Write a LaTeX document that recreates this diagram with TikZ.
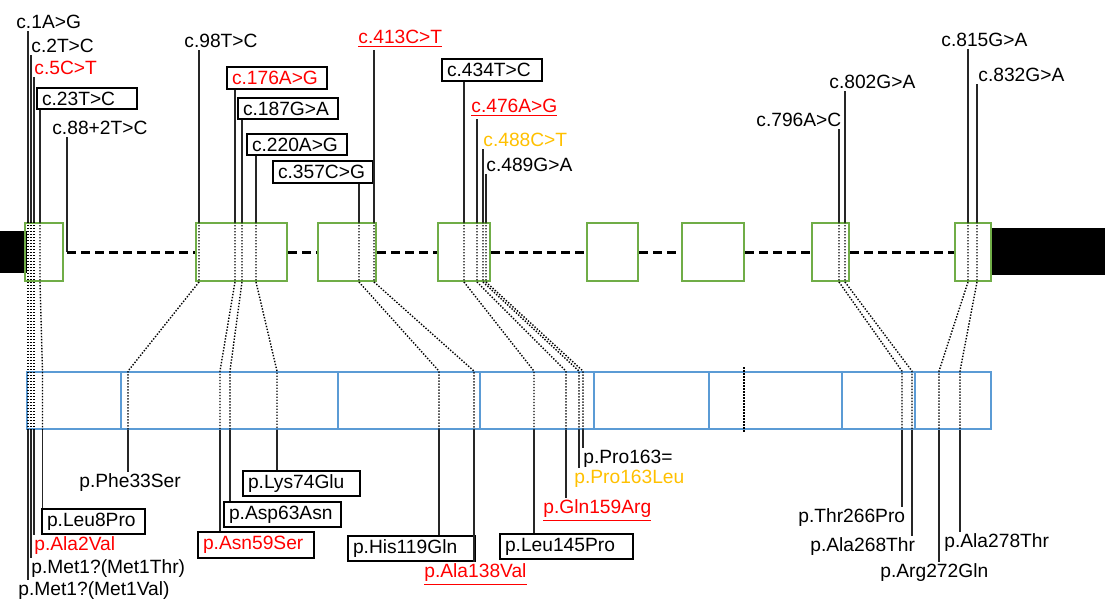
\documentclass[tikz,border=0pt]{standalone}
\usepackage{fontspec}
\setmainfont{Liberation Sans}
\usetikzlibrary{positioning}
\definecolor{exongreen}{RGB}{112,173,71}
\definecolor{barblue}{RGB}{91,155,213}
\definecolor{varred}{RGB}{255,0,0}
\definecolor{vargold}{RGB}{255,192,0}

\begin{document}
\begin{tikzpicture}[
  x=0.5pt, y=-0.5pt,
  font=\fontsize{9.6}{11}\selectfont,
  exon/.style={draw=exongreen, line width=1pt, minimum height=29pt, inner sep=0pt},
  utr/.style={fill=black, minimum height=21pt, inner sep=0pt},
  intron/.style={draw=black, line width=1.5pt, dash pattern=on 4.5pt off 2.5pt},
  prot/.style={draw=barblue, line width=0.9pt, minimum width=482pt, minimum height=28.5pt, inner sep=0pt},
  div/.style={draw=barblue, line width=0.6pt},
  lab/.style={anchor=west, inner sep=1pt},
  box/.style={lab, draw=black, line width=1pt, inner xsep=2.5pt, inner ysep=2pt,
              text width=45pt, align=left},
  link/.style={draw=black!85, line width=0.6pt},
  map/.style={draw=black, line width=0.7pt, dash pattern=on 0.7pt off 0.8pt}
]
\useasboundingbox (0,0) rectangle (1105,601);

% gene: UTRs, exons, introns
\node[utr, minimum width=13.5pt] (utr5) at (13.5,252) {};
\node[utr, minimum width=57pt, minimum height=23.5pt] (utr3) at (1048,251.5) {};
\node[exon, minimum width=19pt] (e1) at (44,252) {};
\node[exon, minimum width=45.5pt] (e2) at (241.5,252) {};
\node[exon, minimum width=29pt] (e3) at (347,252) {};
\node[exon, minimum width=26pt] (e4) at (464,252) {};
\node[exon, minimum width=25.5pt] (e5) at (612.5,252) {};
\node[exon, minimum width=31pt] (e6) at (713,252) {};
\node[exon, minimum width=18.5pt] (e7) at (830.5,252) {};
\node[exon, minimum width=18pt] (e8) at (973,252) {};

% protein bar
\node[prot] (bar) at (509,400.5) {};
\draw[div] (121,372) -- (121,429) (338,372) -- (338,429) (480,372) -- (480,429)
  (594,372) -- (594,429) (709,372) -- (709,429) (842,372) -- (842,429) (915,372) -- (915,429);

% cDNA variants
\node[lab] (c1) at (14,22) {c.1A>G};
\node[lab] (c2) at (29,46) {c.2T>C};
\node[lab, text=varred] (c3) at (32,68) {c.5C>T};
\node[box] (c4) at (36,98.5) {c.23T>C};
\node[lab] (c5) at (50,128) {c.88+2T>C};
\node[lab] (c6) at (182,41) {c.98T>C};
\node[box, text=varred] (c7) at (226,78) {c.176A>G};
\node[box] (c8) at (237,108.5) {c.187G>A};
\node[box] (c9) at (246,144.5) {c.220A>G};
\node[box] (c10) at (272,172) {c.357C>G};
\node[lab, text=varred] (c11) at (356,39) {\underline{c.413C>T}};
\node[box] (c12) at (441,70) {c.434T>C};
\node[lab, text=varred] (c13) at (469,108) {\underline{c.476A>G}};
\node[lab, text=vargold] (c14) at (481,140) {c.488C>T};
\node[lab] (c15) at (484,165) {c.489G>A};
\node[lab] (c16) at (754,120) {c.796A>C};
\node[lab] (c17) at (827,82) {c.802G>A};
\node[lab] (c18) at (939,40) {c.815G>A};
\node[lab] (c19) at (976,75) {c.832G>A};

% protein variants
\node[lab] (pr1) at (16,591) {p.Met1?(Met1Val)};
\node[lab] (pr2) at (29,569) {p.Met1?(Met1Thr)};
\node[lab, text=varred] (pr3) at (32,546) {p.Ala2Val};
\node[box, text width=46.5pt] (pr4) at (41,521.5) {p.Leu8Pro};
\node[lab] (pr6) at (77,483) {p.Phe33Ser};
\node[box, text=varred, text width=53pt] (pr7) at (197,545) {p.Asn59Ser};
\node[box, text width=53.5pt] (pr8) at (223,514.5) {p.Asp63Asn};
\node[box, text width=53.5pt] (pr9) at (242,483.5) {p.Lys74Glu};
\node[box, text width=58.5pt] (pr10) at (347,548.5) {p.His119Gln};
\node[lab, text=varred] (pr11) at (422,575) {\underline{p.Ala138Val}};
\node[box, text width=61.5pt] (pr12) at (499,546.5) {p.Leu145Pro};
\node[lab, text=varred] (pr13) at (541,511) {\underline{p.Gln159Arg}};
\node[lab, text=vargold] (pr14) at (572,479) {p.Pro163Leu};
\node[lab] (pr15) at (581,459) {p.Pro163=};
\node[lab] (pr16) at (796,518) {p.Thr266Pro};
\node[lab] (pr17) at (808,547) {p.Ala268Thr};
\node[lab] (pr18) at (942,543) {p.Ala278Thr};
\node[lab] (pr19) at (878,573) {p.Arg272Gln};

% positions on gene (g) and on protein (q)
\coordinate (g1) at (28,0);   \coordinate (q1) at (28,0);
\coordinate (g2) at (31,0);   \coordinate (q2) at (31,0);
\coordinate (g3) at (34,0);   \coordinate (q3) at (34,0);
\coordinate (g4) at (40,0);   \coordinate (q4) at (42.5,0);
\coordinate (g5) at (67,0);
\coordinate (g6) at (199,0);  \coordinate (q6) at (128,0);
\coordinate (g7) at (235,0);  \coordinate (q7) at (220,0);
\coordinate (g8) at (242,0);  \coordinate (q8) at (230,0);
\coordinate (g9) at (256,0);  \coordinate (q9) at (277,0);
\coordinate (g10) at (359,0); \coordinate (q10) at (439,0);
\coordinate (g11) at (374,0); \coordinate (q11) at (474,0);
\coordinate (g12) at (464,0); \coordinate (q12) at (534,0);
\coordinate (g13) at (477,0); \coordinate (q13) at (566,0);
\coordinate (g14) at (483,0); \coordinate (q14) at (579,0);
\coordinate (g15) at (486,0); \coordinate (q15) at (583,0);
\coordinate (g16) at (839,0); \coordinate (q16) at (902,0);
\coordinate (g17) at (845,0); \coordinate (q17) at (912,0);
\coordinate (g18) at (968,0); \coordinate (q18) at (939,0);
\coordinate (g19) at (977,0); \coordinate (q19) at (960,0);
\coordinate (q20) at (744,0);

% introns
\draw[link] (c5.south -| g5) -- (g5 |- e1.east);
\draw[intron] (g5 |- e1.east) -- (e2.west);
\draw[intron] (e2) -- (e3);
\draw[intron] (e3) -- (e4);
\draw[intron] (e4) -- (e5);
\draw[intron] (e5) -- (e6);
\draw[intron] (e6) -- (e7);
\draw[intron] (e7) -- (e8);

% exon 1
\draw[link] (c1.south -| g1) -- (g1 |- e1.north);
\draw[map] (g1 |- e1.north) -- (g1 |- e1.south) -- (q1 |- bar.north) -- (q1 |- bar.south);
\draw[link] (q1 |- bar.south) -- (pr1.north -| q1);
\draw[link] (c2.south -| g2) -- (g2 |- e1.north);
\draw[map] (g2 |- e1.north) -- (g2 |- e1.south) -- (q2 |- bar.north) -- (q2 |- bar.south);
\draw[link] (q2 |- bar.south) -- (pr2.north -| q2);
\draw[link] (c3.south -| g3) -- (g3 |- e1.north);
\draw[map] (g3 |- e1.north) -- (g3 |- e1.south) -- (q3 |- bar.north) -- (q3 |- bar.south);
\draw[link] (q3 |- bar.south) -- (pr3.north -| q3);
\draw[link] (c4.south -| g4) -- (g4 |- e1.north);
\draw[map] (g4 |- e1.north) -- (g4 |- e1.south) -- (q4 |- bar.north) -- (q4 |- bar.south);
\draw[link] (q4 |- bar.south) -- (pr4.north -| q4);

% exon 2
\draw[link] (c6.south -| g6) -- (g6 |- e2.north);
\draw[map] (g6 |- e2.north) -- (g6 |- e2.south) -- (q6 |- bar.north) -- (q6 |- bar.south);
\draw[link] (q6 |- bar.south) -- (pr6.north -| q6);
\draw[link] (c7.south -| g7) -- (g7 |- e2.north);
\draw[map] (g7 |- e2.north) -- (g7 |- e2.south) -- (q7 |- bar.north) -- (q7 |- bar.south);
\draw[link] (q7 |- bar.south) -- (pr7.north -| q7);
\draw[link] (c8.south -| g8) -- (g8 |- e2.north);
\draw[map] (g8 |- e2.north) -- (g8 |- e2.south) -- (q8 |- bar.north) -- (q8 |- bar.south);
\draw[link] (q8 |- bar.south) -- (pr8.north -| q8);
\draw[link] (c9.south -| g9) -- (g9 |- e2.north);
\draw[map] (g9 |- e2.north) -- (g9 |- e2.south) -- (q9 |- bar.north) -- (q9 |- bar.south);
\draw[link] (q9 |- bar.south) -- (pr9.north -| q9);

% exon 3
\draw[link] (c10.south -| g10) -- (g10 |- e3.north);
\draw[map] (g10 |- e3.north) -- (g10 |- e3.south) -- (q10 |- bar.north) -- (q10 |- bar.south);
\draw[link] (q10 |- bar.south) -- (pr10.north -| q10);
\draw[link] (c11.south -| g11) -- (g11 |- e3.north);
\draw[map] (g11 |- e3.north) -- (g11 |- e3.south) -- (q11 |- bar.north) -- (q11 |- bar.south);
\draw[link] (q11 |- bar.south) -- (pr11.north -| q11);

% exon 4
\draw[link] (c12.south -| g12) -- (g12 |- e4.north);
\draw[map] (g12 |- e4.north) -- (g12 |- e4.south) -- (q12 |- bar.north) -- (q12 |- bar.south);
\draw[link] (q12 |- bar.south) -- (pr12.north -| q12);
\draw[link] (c13.south -| g13) -- (g13 |- e4.north);
\draw[map] (g13 |- e4.north) -- (g13 |- e4.south) -- (q13 |- bar.north) -- (q13 |- bar.south);
\draw[link] (q13 |- bar.south) -- (pr13.north -| q13);
\draw[link] (c14.south -| g14) -- (g14 |- e4.north);
\draw[map] (g14 |- e4.north) -- (g14 |- e4.south) -- (q14 |- bar.north) -- (q14 |- bar.south);
\draw[link] (q14 |- bar.south) -- (pr14.north -| q14);
\draw[link] (c15.south -| g15) -- (g15 |- e4.north);
\draw[map] (g15 |- e4.north) -- (g15 |- e4.south) -- (q15 |- bar.north) -- (q15 |- bar.south);
\draw[link] (q15 |- bar.south) -- (pr15.north -| q15);

% exon 6/7 boundary in the protein
\draw[map] ([yshift=2pt]q20 |- bar.north) -- ([yshift=-1pt]q20 |- bar.south);

% exon 7
\draw[link] (c16.south -| g16) -- (g16 |- e7.north);
\draw[map] (g16 |- e7.north) -- (g16 |- e7.south) -- (q16 |- bar.north) -- (q16 |- bar.south);
\draw[link] (q16 |- bar.south) -- (pr16.north -| q16);
\draw[link] (c17.south -| g17) -- (g17 |- e7.north);
\draw[map] (g17 |- e7.north) -- (g17 |- e7.south) -- (q17 |- bar.north) -- (q17 |- bar.south);
\draw[link] (q17 |- bar.south) -- (pr17.north -| q17);

% exon 8
\draw[link] (c18.south -| g18) -- (g18 |- e8.north);
\draw[map] (g18 |- e8.north) -- (g18 |- e8.south) -- (q18 |- bar.north) -- (q18 |- bar.south);
\draw[link] (q18 |- bar.south) -- (pr19.north -| q18);
\draw[link] (c19.south -| g19) -- (g19 |- e8.north);
\draw[map] (g19 |- e8.north) -- (g19 |- e8.south) -- (q19 |- bar.north) -- (q19 |- bar.south);
\draw[link] (q19 |- bar.south) -- (pr18.north -| q19);
\end{tikzpicture}
\end{document}
